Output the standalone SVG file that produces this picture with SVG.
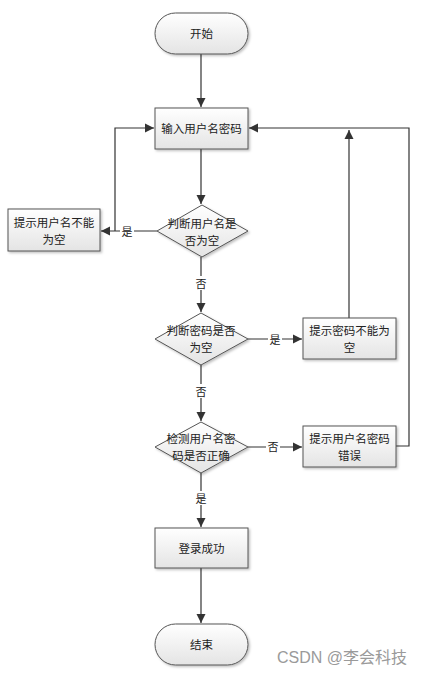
<svg xmlns="http://www.w3.org/2000/svg" width="426" height="680" viewBox="0 0 426 680">
<defs>
<linearGradient id="g" x1="0" y1="0" x2="0" y2="1"><stop offset="0" stop-color="#ffffff"/><stop offset="1" stop-color="#e4e4e4"/></linearGradient>
<filter id="sh" x="-10%" y="-10%" width="130%" height="140%"><feDropShadow dx="1.5" dy="1.5" stdDeviation="0.8" flood-color="#000" flood-opacity="0.25"/></filter>
<marker id="a" markerWidth="10" markerHeight="10" refX="9" refY="5" orient="auto" markerUnits="userSpaceOnUse"><path d="M0,0.5 L9,5 L0,9.5 Z" fill="#333"/></marker>
</defs>
<style>
.n{fill:url(#g);stroke:#555;stroke-width:1;filter:url(#sh)}
.t{font-family:"Noto Sans CJK SC","Liberation Sans",sans-serif;font-size:11.5px;fill:#222;text-anchor:middle;dominant-baseline:central}
.c{fill:none;stroke:#333;stroke-width:1.2}
.l{font-family:"Noto Sans CJK SC","Liberation Sans",sans-serif;font-size:11px;fill:#222;text-anchor:middle;dominant-baseline:central}
</style>
<rect width="426" height="680" fill="#fff"/>
<g id="connectors">
<path class="c" d="M201,54 V107" marker-end="url(#a)"/>
<path class="c" d="M201,149 V204" marker-end="url(#a)"/>
<path class="c" d="M157,231 H101" marker-end="url(#a)"/>
<path class="c" d="M115,231 V128 H154" marker-end="url(#a)"/>
<path class="c" d="M201,257 V312" marker-end="url(#a)"/>
<path class="c" d="M248,339 H302" marker-end="url(#a)"/>
<path class="c" d="M349,318 V130" marker-end="url(#a)"/>
<path class="c" d="M396,446 H409 V128 H249" marker-end="url(#a)"/>
<path class="c" d="M201,365 V421" marker-end="url(#a)"/>
<path class="c" d="M248,447 H302" marker-end="url(#a)"/>
<path class="c" d="M201,473 V527" marker-end="url(#a)"/>
<path class="c" d="M201,568 V623" marker-end="url(#a)"/>
<rect x="120" y="224" width="14" height="14" fill="#fff"/>
<text class="l" x="127" y="231">是</text>
<rect x="194" y="276" width="14" height="14" fill="#fff"/>
<text class="l" x="201" y="283">否</text>
<rect x="268" y="332" width="14" height="14" fill="#fff"/>
<text class="l" x="275" y="339">是</text>
<rect x="194" y="384" width="14" height="14" fill="#fff"/>
<text class="l" x="201" y="391">否</text>
<rect x="266" y="440" width="14" height="14" fill="#fff"/>
<text class="l" x="273" y="446">否</text>
<rect x="194" y="491" width="14" height="14" fill="#fff"/>
<text class="l" x="201" y="498">是</text>
</g>
<g id="start"><rect class="n" x="155" y="13" width="93" height="41" rx="20.5"/><text class="t" x="201.5" y="33">开始</text></g>
<g id="input"><rect class="n" x="155" y="108" width="93" height="41"/><text class="t" x="201.5" y="128">输入用户名密码</text></g>
<g id="check-user"><polygon class="n" points="202,205 248,231 202,257 157,231"/><text class="t" x="202" y="223">判断用户名是</text><text class="t" x="202" y="240">否为空</text></g>
<g id="user-empty"><rect class="n" x="8" y="209" width="92" height="42"/><text class="t" x="54" y="222">提示用户名不能</text><text class="t" x="54" y="239">为空</text></g>
<g id="check-pwd"><polygon class="n" points="201,313 248,339 201,365 155,339"/><text class="t" x="201" y="330">判断密码是否</text><text class="t" x="201" y="347">为空</text></g>
<g id="pwd-empty"><rect class="n" x="303" y="318" width="93" height="41"/><text class="t" x="349.5" y="330">提示密码不能为</text><text class="t" x="349.5" y="347">空</text></g>
<g id="check-both"><polygon class="n" points="201,422 248,447 201,473 155,447"/><text class="t" x="201" y="438">检测用户名密</text><text class="t" x="201" y="455">码是否正确</text></g>
<g id="wrong"><rect class="n" x="303" y="426" width="93" height="41"/><text class="t" x="349.5" y="438">提示用户名密码</text><text class="t" x="349.5" y="455">错误</text></g>
<g id="success"><rect class="n" x="155" y="528" width="93" height="40"/><text class="t" x="201.5" y="548">登录成功</text></g>
<g id="end"><rect class="n" x="155" y="624" width="93" height="41" rx="20.5"/><text class="t" x="201.5" y="644">结束</text></g>
<text x="342" y="663" font-family="'Liberation Sans','Noto Sans CJK SC',sans-serif" font-size="16" fill="#9a9a9a" text-anchor="middle">CSDN @李会科技</text>
</svg>
